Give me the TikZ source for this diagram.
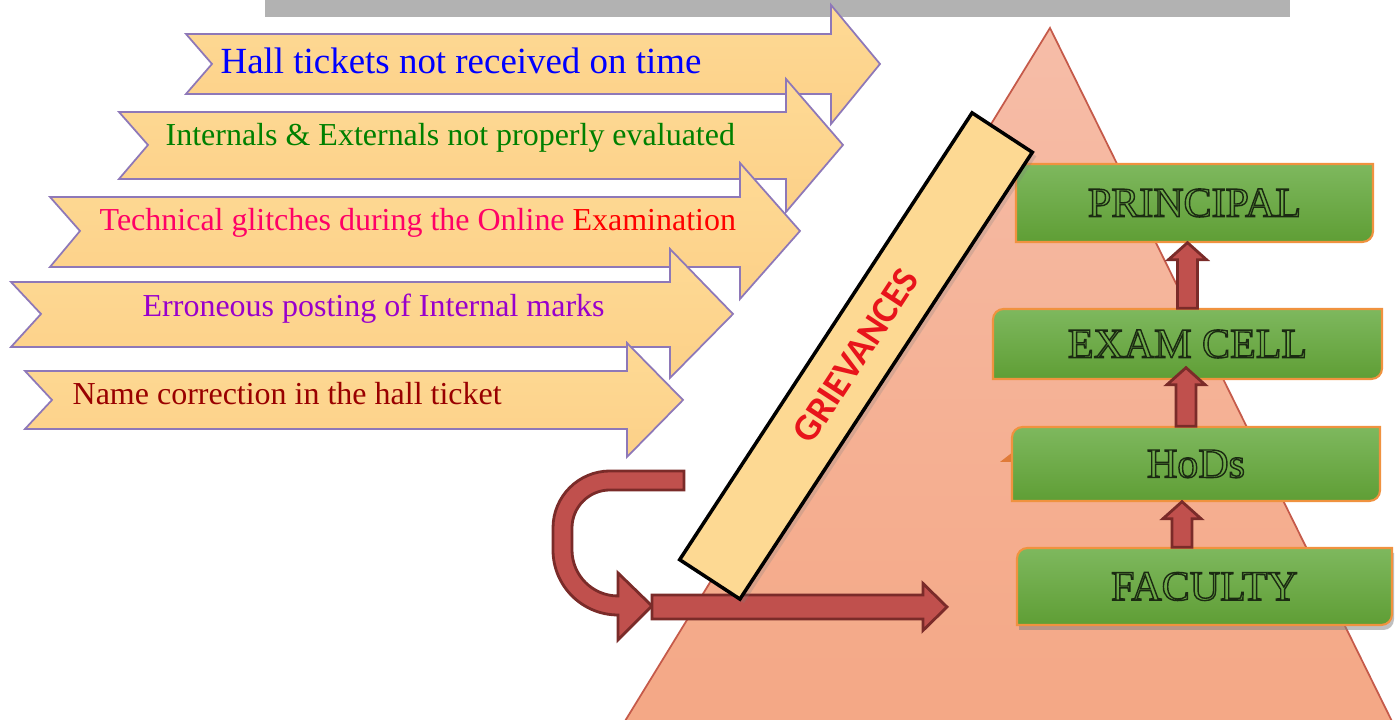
\documentclass[tikz,border=0pt]{standalone}
\usepackage{fontspec}
\setmainfont{Liberation Serif}
\newfontfamily\grvfont{Carlito}
\usetikzlibrary{calc,shadows}

\definecolor{topgray}{HTML}{B2B2B2}
\definecolor{pyrtop}{HTML}{F6BDA8}
\definecolor{pyrbot}{HTML}{F4A683}
\definecolor{pyrline}{HTML}{C55A4A}
\definecolor{yellowtop}{HTML}{FEDA95}
\definecolor{yellowbot}{HTML}{FCD088}
\definecolor{arrowline}{HTML}{8E78B8}
\definecolor{greentop}{HTML}{7EB85E}
\definecolor{greenbot}{HTML}{5F9E35}
\definecolor{boxline}{HTML}{F0923F}
\definecolor{lvlink}{HTML}{1B2A12}
\definecolor{bendred}{HTML}{C0504D}
\definecolor{benddark}{HTML}{7A2B29}
\definecolor{barlight}{HTML}{FDD993}
\definecolor{grvred}{HTML}{E8141B}
\definecolor{wedge}{HTML}{E07B39}
\definecolor{hallblue}{HTML}{0000FF}
\definecolor{evalgreen}{HTML}{008000}
\definecolor{glitchpink}{HTML}{FF0066}
\definecolor{glitchred}{HTML}{FF0000}
\definecolor{postpurple}{HTML}{9900CC}
\definecolor{namered}{HTML}{990000}

\newcommand{\outlined}[1]{\special{pdf:literal direct 1 Tr 0.4 w}#1\special{pdf:literal direct 0 Tr}}

\begin{document}
\begin{tikzpicture}[%
      causearrow/.style={top color=yellowtop, bottom color=yellowbot, draw=arrowline, line width=0.5pt},
      causetext/.style={anchor=base west, inner sep=0pt, font=\fontsize{9.1}{11}\selectfont},
      lvlbox/.style={top color=greentop, bottom color=greenbot, draw=boxline, line width=0.6pt},
      lvltext/.style={inner sep=0pt, font=\fontsize{11.95}{14}\selectfont, text=lvlink},
      bendarrow/.style={fill=bendred, draw=benddark, line width=0.8pt},
      uparrow/.style={bendarrow,
        to path={let \p1=(\tikztostart), \p2=(\tikztotarget) in
          (\x1-0.1cm,\y1) -- (\x1-0.1cm,\y2-0.17cm) -- (\x1-0.19cm,\y2-0.17cm) -- (\x1,\y2)
          -- (\x1+0.19cm,\y2-0.17cm) -- (\x1+0.1cm,\y2-0.17cm) -- (\x1+0.1cm,\y1) -- cycle}},
      rightarrow/.style={bendarrow,
        to path={let \p1=(\tikztostart), \p2=(\tikztotarget) in
          (\x1,\y1-0.12cm) -- (\x2-0.24cm,\y1-0.12cm) -- (\x2-0.24cm,\y1-0.235cm) -- (\x2,\y1)
          -- (\x2-0.24cm,\y1+0.235cm) -- (\x2-0.24cm,\y1+0.12cm) -- (\x1,\y1+0.12cm) -- cycle}},
      grvbar/.style={draw=black, line width=1pt, fill=barlight,
        minimum width=5.34cm, minimum height=0.72cm, inner sep=0pt,
        font=\grvfont\bfseries\fontsize{10.8}{12}\selectfont, text=grvred,
        drop shadow={shadow xshift=0.04cm, shadow yshift=-0.04cm, opacity=0.25}},
      ]
      \useasboundingbox (0,0) rectangle (13.96,7.20);
      \clip (0,0) rectangle (13.96,7.20);

      \fill [color=topgray] (2.65,7.03) rectangle (12.90,7.30);

      \shade [top color=pyrtop, bottom color=pyrbot] (5.95,-0.5) -- (10.50,6.92) -- (14.16,-0.5) -- cycle;
      \draw [color=pyrline, line width=0.5pt] (5.95,-0.5) -- (10.50,6.92) -- (14.16,-0.5);

      % causes
      \path [causearrow] (1.86,6.86) -- (8.31,6.86) -- (8.31,7.15) -- (8.80,6.56) -- (8.31,5.96) -- (8.31,6.26) -- (1.86,6.26) -- (2.12,6.56) -- cycle;
      \node [causetext, font=\fontsize{10.5}{12}\selectfont, text=hallblue] (hall) at (2.20,6.46) {Hall tickets not received on time};

      \path [causearrow] (1.19,6.08) -- (7.86,6.08) -- (7.86,6.41) -- (8.43,5.75) -- (7.86,5.08) -- (7.86,5.41) -- (1.19,5.41) -- (1.48,5.75) -- cycle;
      \node [causetext, text=evalgreen] (eval) at (1.65,5.74) {Internals \& Externals not properly evaluated};

      \path [causearrow] (0.50,5.23) -- (7.40,5.23) -- (7.40,5.57) -- (8.00,4.89) -- (7.40,4.21) -- (7.40,4.53) -- (0.50,4.53) -- (0.80,4.89) -- cycle;
      \node [causetext, text=glitchpink] (glitch) at (0.99,4.89) {Technical glitches during the Online {\color{glitchred}Examination}};

      \path [causearrow] (0.11,4.38) -- (6.70,4.38) -- (6.70,4.71) -- (7.33,4.06) -- (6.70,3.42) -- (6.70,3.73) -- (0.11,3.73) -- (0.41,4.06) -- cycle;
      \node [causetext, text=postpurple] (post) at (1.42,4.03) {Erroneous posting of Internal marks};

      \path [causearrow] (0.25,3.49) -- (6.27,3.49) -- (6.27,3.77) -- (6.83,3.20) -- (6.27,2.63) -- (6.27,2.91) -- (0.25,2.91) -- (0.52,3.20) -- cycle;
      \node [causetext, text=namered] (name) at (0.72,3.15) {Name correction in the hall ticket};

      % levels
      \fill [color=wedge] (10.00,2.58) -- (10.13,2.68) -- (10.13,2.58) -- cycle;

      \path [lvlbox, drop shadow={shadow xshift=0.02cm, shadow yshift=-0.05cm, opacity=0.5}] (10.17,1.335) [rounded corners=3pt] -- (10.17,1.72) -- (12.00,1.72) [sharp corners] -- (13.92,1.72) -- (13.92,1.335) [rounded corners=3pt] -- (13.92,0.95) -- (12.00,0.95) [sharp corners] -- (10.17,0.95) -- cycle;
      \node [lvltext, minimum width=3.75cm, minimum height=0.77cm] (fac) at (12.045,1.335) {\outlined{FACULTY}};

      \path [lvlbox] (10.12,2.56) [rounded corners=3pt] -- (10.12,2.93) -- (12.00,2.93) [sharp corners] -- (13.80,2.93) -- (13.80,2.56) [rounded corners=3pt] -- (13.80,2.19) -- (12.00,2.19) [sharp corners] -- (10.12,2.19) -- cycle;
      \node [lvltext, minimum width=3.68cm, minimum height=0.74cm] (hod) at (11.96,2.56) {\outlined{HoDs}};

      \path [lvlbox] (9.93,3.76) [rounded corners=3pt] -- (9.93,4.11) -- (12.00,4.11) [sharp corners] -- (13.82,4.11) -- (13.82,3.76) [rounded corners=3pt] -- (13.82,3.41) -- (12.00,3.41) [sharp corners] -- (9.93,3.41) -- cycle;
      \node [lvltext, minimum width=3.89cm, minimum height=0.70cm] (exm) at (11.875,3.76) {\outlined{EXAM CELL}};

      \path [lvlbox] (10.16,5.17) [rounded corners=3pt] -- (10.16,5.56) -- (12.00,5.56) [sharp corners] -- (13.73,5.56) -- (13.73,5.17) [rounded corners=3pt] -- (13.73,4.78) -- (12.00,4.78) [sharp corners] -- (10.16,4.78) -- cycle;
      \node [lvltext, minimum width=3.57cm, minimum height=0.78cm] (prn) at (11.945,5.17) {\outlined{PRINCIPAL}};

      \draw [uparrow] ([xshift=-0.225cm]fac.north) to (hod.south);
      \draw [uparrow] ([xshift=-0.10cm]hod.north) to ([yshift=0.12cm]exm.south);
      \draw [uparrow] (exm.north) to (prn.south);

      % turn into the pyramid
      \filldraw [bendarrow] (6.84,2.49) -- (6.10,2.49) arc [start angle=90, end angle=180, radius=0.57]
        -- (5.53,1.70) arc [start angle=180, end angle=270, radius=0.65]
        -- (6.18,0.80) -- (6.52,1.14) -- (6.18,1.47) -- (6.18,1.24)
        arc [start angle=270, end angle=180, radius=0.46]
        -- (5.72,1.92) arc [start angle=180, end angle=90, radius=0.38]
        -- (6.84,2.30) -- cycle;
      \coordinate (turn) at (6.52,1.13);
      \coordinate (aim) at (9.47,1.13);
      \draw [rightarrow] (turn) to (aim);

      \node [grvbar, rotate=56.8] (grv) at (8.56,3.64) {GRIEVANCES};
      \end{tikzpicture}
\end{document}
